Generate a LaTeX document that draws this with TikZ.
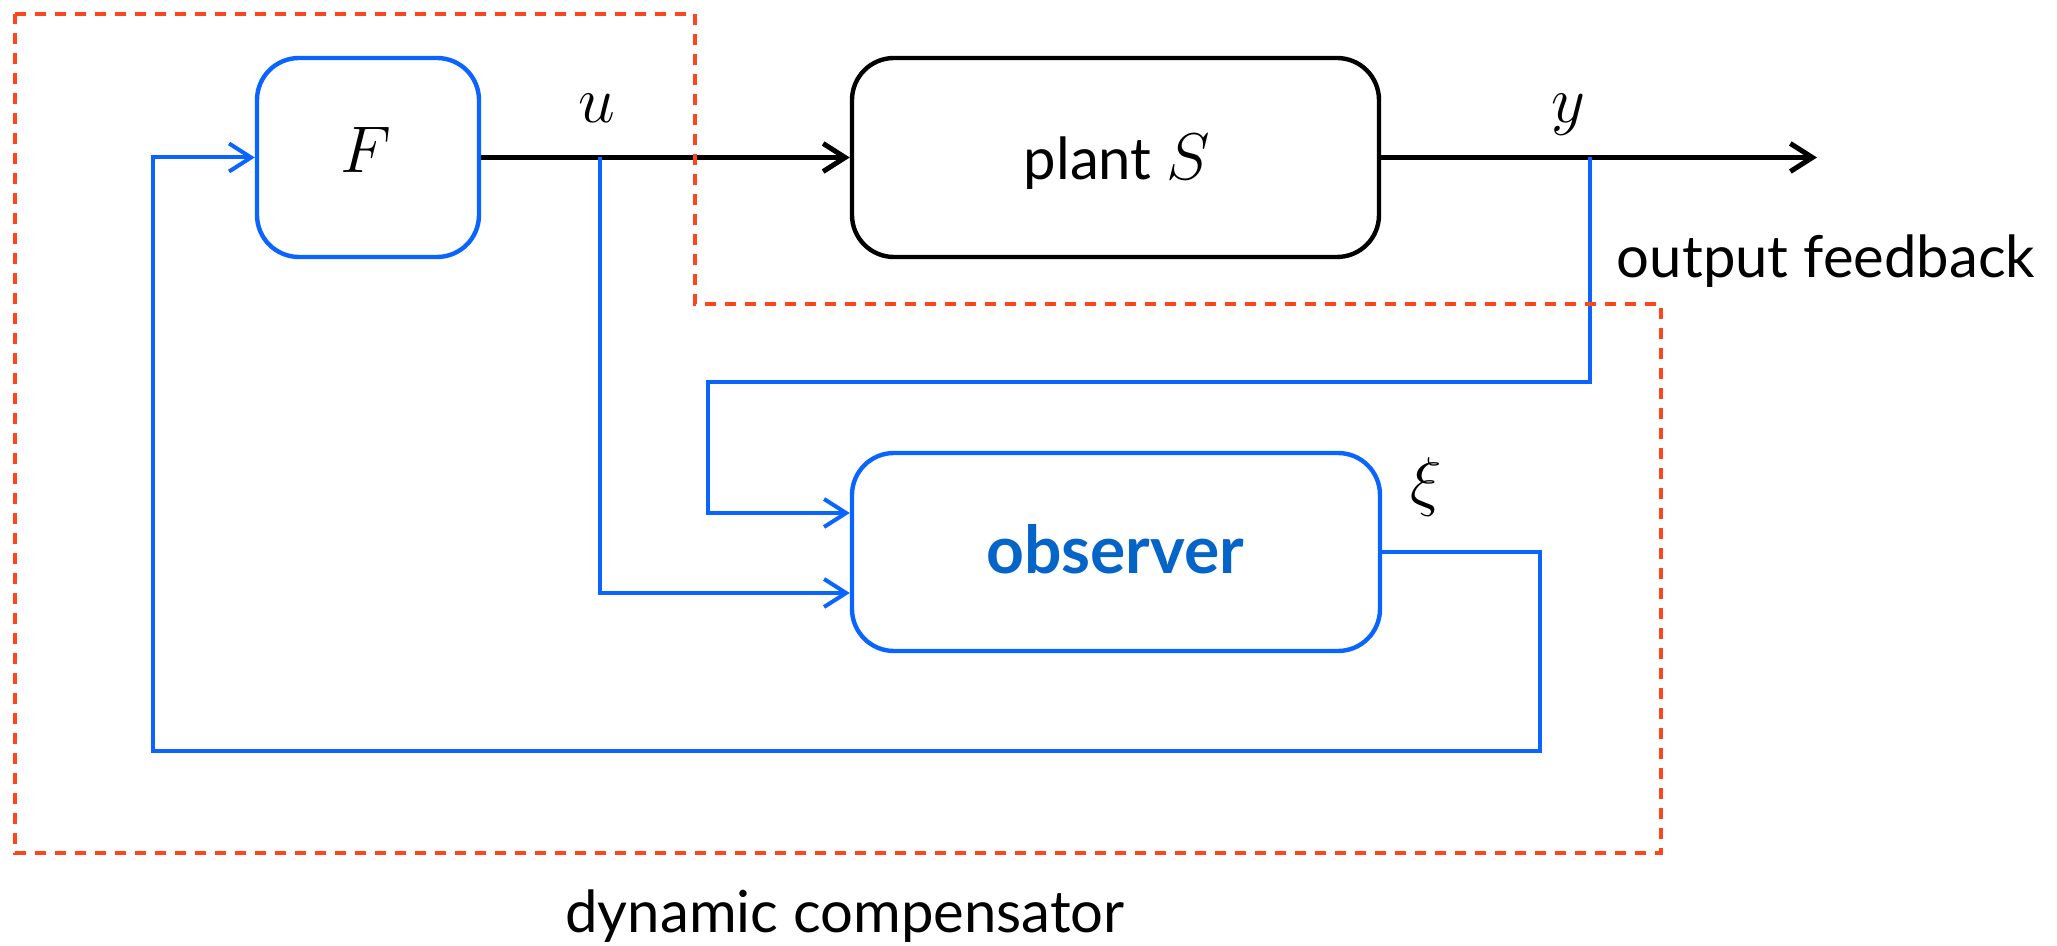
\RequirePackage{fix-cm}
\documentclass[tikz,border=0pt]{standalone}
\usepackage{fontspec}
\setmainfont{Lato}
\usetikzlibrary{arrows.meta}
\definecolor{lblue}{RGB}{10,100,255}
\definecolor{tblue}{RGB}{5,100,200}
\definecolor{dred}{RGB}{255,69,30}
\newcommand{\mth}[1]{{\fontsize{33}{40}\selectfont$#1$}}
\newcommand{\txtsz}{\fontsize{29}{35}\selectfont}
\begin{document}
\begin{tikzpicture}[x=0.5pt,y=-0.5pt,
  blk/.style={draw, rounded corners=21pt, line width=2.2pt, inner sep=0pt},
  tip/.style={-{Straight Barb[length=11pt,width=14pt]}},
  conn/.style={line width=2.5pt},
  bconn/.style={line width=2pt, lblue},
  lbl/.style={anchor=base, inner sep=0pt},
  comp/.style={dred, line width=2pt, dash pattern=on 5.5pt off 4.5pt}]
\useasboundingbox (0,0) rectangle (2057,946);
% blocks
\node[blk, lblue, minimum width=111pt, minimum height=99.5pt] (F) at (368,157.5) {};
\node[blk, black, minimum width=263.5pt, minimum height=99.5pt] (plant) at (1115.5,157.5) {};
\node[blk, lblue, minimum width=264pt, minimum height=99pt] (obs) at (1116,552) {};
% labels
\node[lbl] (Flbl) at (366,173) {\mth{F}};
\node[lbl] (plantlbl) at (1117,180) {\txtsz plant \mth{S}};
\node[lbl, text=tblue] (obslbl) at (1115,574) {\fontsize{33}{39}\selectfont\bfseries observer};
\node[lbl] (ulbl) at (597,123) {\mth{u}};
\node[lbl] (ylbl) at (1568,123) {\mth{y}};
\node[lbl] (xilbl) at (1426,504) {\mth{\xi}};
\node[lbl] (oflbl) at (1826,278) {\txtsz output feedback};
\node[lbl] (dclbl) at (845,932) {\txtsz dynamic compensator};
% coordinates
\coordinate (out) at (1817,157.5);
\coordinate (ub) at (600,157.5);
\coordinate (yb) at (1590,157.5);
\coordinate (yc) at (1590,382);
\coordinate (yd) at (708,382);
\coordinate (oc) at (1540,751);
\coordinate (od) at (153,751);
% black connectors
\draw[conn, tip] (F.east) -- (plant.west);
\draw[conn, tip] (plant.east) -- (out);
% blue connectors
\draw[bconn, tip] (ub) |- (obs.west |- 0,593);
\draw[bconn, tip] (yb) -- (yc) -- (yd) |- (obs.west |- 0,513);
\draw[bconn, tip] (obs.east) -| (oc) -- (od) |- (F.west);
% dynamic compensator outline
\coordinate (r1) at (15,14);
\coordinate (r2) at (695,14);
\coordinate (r3) at (695,304);
\coordinate (r4) at (1661,304);
\coordinate (r5) at (1661,853);
\coordinate (r6) at (15,853);
\draw[comp] (r1) -- (r2) -- (r3) -- (r4) -- (r5) -- (r6) -- cycle;
\end{tikzpicture}
\end{document}
